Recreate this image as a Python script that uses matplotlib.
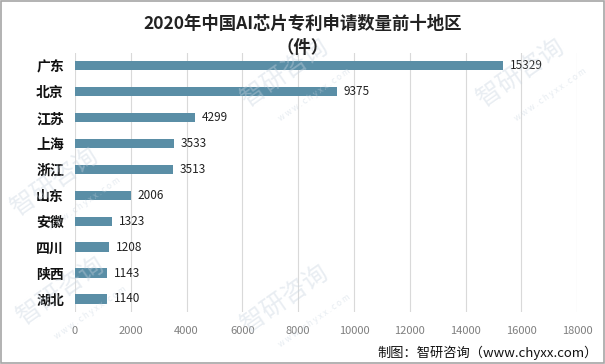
import matplotlib
matplotlib.use('Agg')
import matplotlib.pyplot as plt
from matplotlib.patches import Rectangle

plt.rcParams['font.family'] = ['Noto Sans CJK SC', 'DejaVu Sans']

regions = ['广东', '北京', '江苏', '上海', '浙江', '山东', '安徽', '四川', '陕西', '湖北']
counts = [15329, 9375, 4299, 3533, 3513, 2006, 1323, 1208, 1143, 1140]
xticks = [0, 2000, 4000, 6000, 8000, 10000, 12000, 14000, 16000, 18000]

fig = plt.figure(figsize=(6.05, 3.64), dpi=100)
ax = fig.add_axes([0.124, 0.143, 0.830, 0.712])

ypos = list(range(len(regions)))[::-1]
ax.barh(ypos, counts, height=0.36, color='#5a8ea6', zorder=3)
for y, v in zip(ypos, counts):
    ax.text(v + 250, y, str(v), va='center', ha='left', fontsize=8.5,
            color='#222222', zorder=4)

ax.set_xlim(0, 18000)
ax.set_ylim(-0.5, len(regions) - 0.5)
ax.set_xticks(xticks)
ax.set_xticklabels([str(t) for t in xticks], fontsize=8, color='#7f7f7f')
ax.set_yticks(ypos)
ax.set_yticklabels(regions, fontsize=10, fontweight='bold', color='#111111')
ax.tick_params(axis='both', length=0)
ax.tick_params(axis='x', pad=10)
ax.tick_params(axis='y', pad=8)
ax.grid(axis='x', color='#d9d9d9', linewidth=0.8, zorder=0)
for s in ax.spines.values():
    s.set_visible(False)

fig.text(0.5, 0.935, '2020年中国AI芯片专利申请数量前十地区', ha='center', va='center',
         fontsize=12.5, fontweight='bold', color='#222222')
fig.text(0.5, 0.868, '（件）', ha='center', va='center',
         fontsize=12.5, fontweight='bold', color='#222222')

# faint watermarks
for (x, y) in [(0.09, 0.50), (0.47, 0.80), (0.10, 0.20), (0.47, 0.18), (0.86, 0.80)]:
    fig.text(x, y, '智研咨询', rotation=35, fontsize=18, color='#c8d4e0',
             alpha=0.4, ha='center', va='center', zorder=0)
    fig.text(x + 0.05, y - 0.06, 'w w w . c h y x x . c o m', rotation=35,
             fontsize=6, color='#c8d4e0', alpha=0.45, ha='center', va='center', zorder=0)

fig.text(0.988, 0.03, '制图：智研咨询（www.chyxx.com）', ha='right', va='center',
         fontsize=9.5, color='#111111')

fig.patches.append(Rectangle((0.001, 0.002), 0.997, 0.995, transform=fig.transFigure,
                             fill=False, edgecolor='#a6a6a6', linewidth=1.2))

fig.savefig('out.png', dpi=100)
